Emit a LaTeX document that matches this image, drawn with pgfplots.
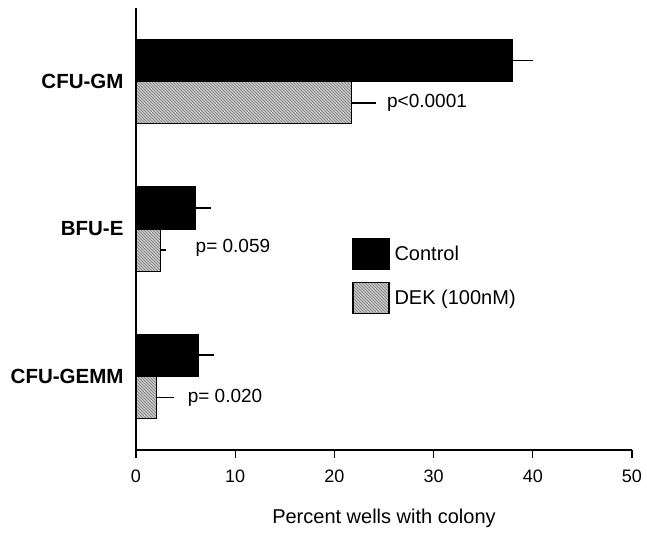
\documentclass[border=0pt]{standalone}
\usepackage{pgfplots}
\pgfplotsset{compat=1.18}
\usepackage{fontspec}
\setmainfont{Liberation Sans}
\usetikzlibrary{patterns}
\begin{document}
\begin{tikzpicture}
\begin{axis}[
  scale only axis,
  width=496pt, height=442pt,
  xmin=0, xmax=50, ymin=-0.5, ymax=2.5,
  axis x line*=bottom, axis y line*=left,
  axis line style={line width=1.3pt},
  xtick={0,10,20,30,40,50},
  tick align=outside,
  x tick style={line width=1.3pt, black},
  major tick length=8pt,
  ytick={0,1,2},
  yticklabels={CFU-GEMM,BFU-E,CFU-GM},
  y tick style={draw=none},
  yticklabel style={font=\bfseries\fontsize{20.5}{24}\selectfont, xshift=-1pt},
  xticklabel style={font=\fontsize{18}{21}\selectfont, yshift=-8pt},
  /pgf/number format/assume math mode=true,
  xlabel={Percent wells with colony},
  xlabel style={font=\fontsize{20}{24}\selectfont, yshift=-20pt},
  xbar, bar width=0.286,
  error bars/error bar style={line width=1.8pt},
  legend image code/.code={\draw[#1, line width=1.1pt] (0pt,-15.5pt) rectangle (36pt,15.5pt);},
  legend style={draw=none, fill=none, at={(0.436,0.48)}, anchor=north west,
    font=\fontsize{20}{24}\selectfont, inner sep=0pt, row sep=12pt,
    nodes={inner sep=5pt}},
  legend cell align=left,
  clip=false,
]
\addplot[draw=black, line width=1.1pt, fill=black, bar shift=0.143,
  error bars/.cd, x dir=plus, x explicit, error mark=none]
  coordinates {(6.3,0) +- (1.6,0) (6.0,1) +- (1.6,0) (37.9,2) +- (2.1,0)};
\addlegendentry{Control}
\addplot[draw=black, line width=1.1pt, fill=gray!45,
  postaction={pattern=north west lines, pattern color=black!50},
  bar shift=-0.143,
  error bars/.cd, x dir=plus, x explicit, error mark=none]
  coordinates {(2.05,0) +- (1.75,0) (2.45,1) +- (0.6,0) (21.7,2) +- (2.5,0)};
\addlegendentry{DEK (100nM)}
\node[anchor=west, font=\fontsize{19}{22}\selectfont, inner sep=0pt] at (axis cs:25.3,1.857) {p<0.0001};
\node[anchor=west, font=\fontsize{19}{22}\selectfont, inner sep=0pt] at (axis cs:6.0,0.871) {p= 0.059};
\node[anchor=west, font=\fontsize{19}{22}\selectfont, inner sep=0pt] at (axis cs:5.2,-0.147) {p= 0.020};
\path (rel axis cs:0,1) -- ++(0pt,8pt);
\path (rel axis cs:1,0) -- ++(15pt,0pt);
\path (rel axis cs:0,0) -- ++(-136pt,-83pt);
\end{axis}
\end{tikzpicture}
\end{document}
